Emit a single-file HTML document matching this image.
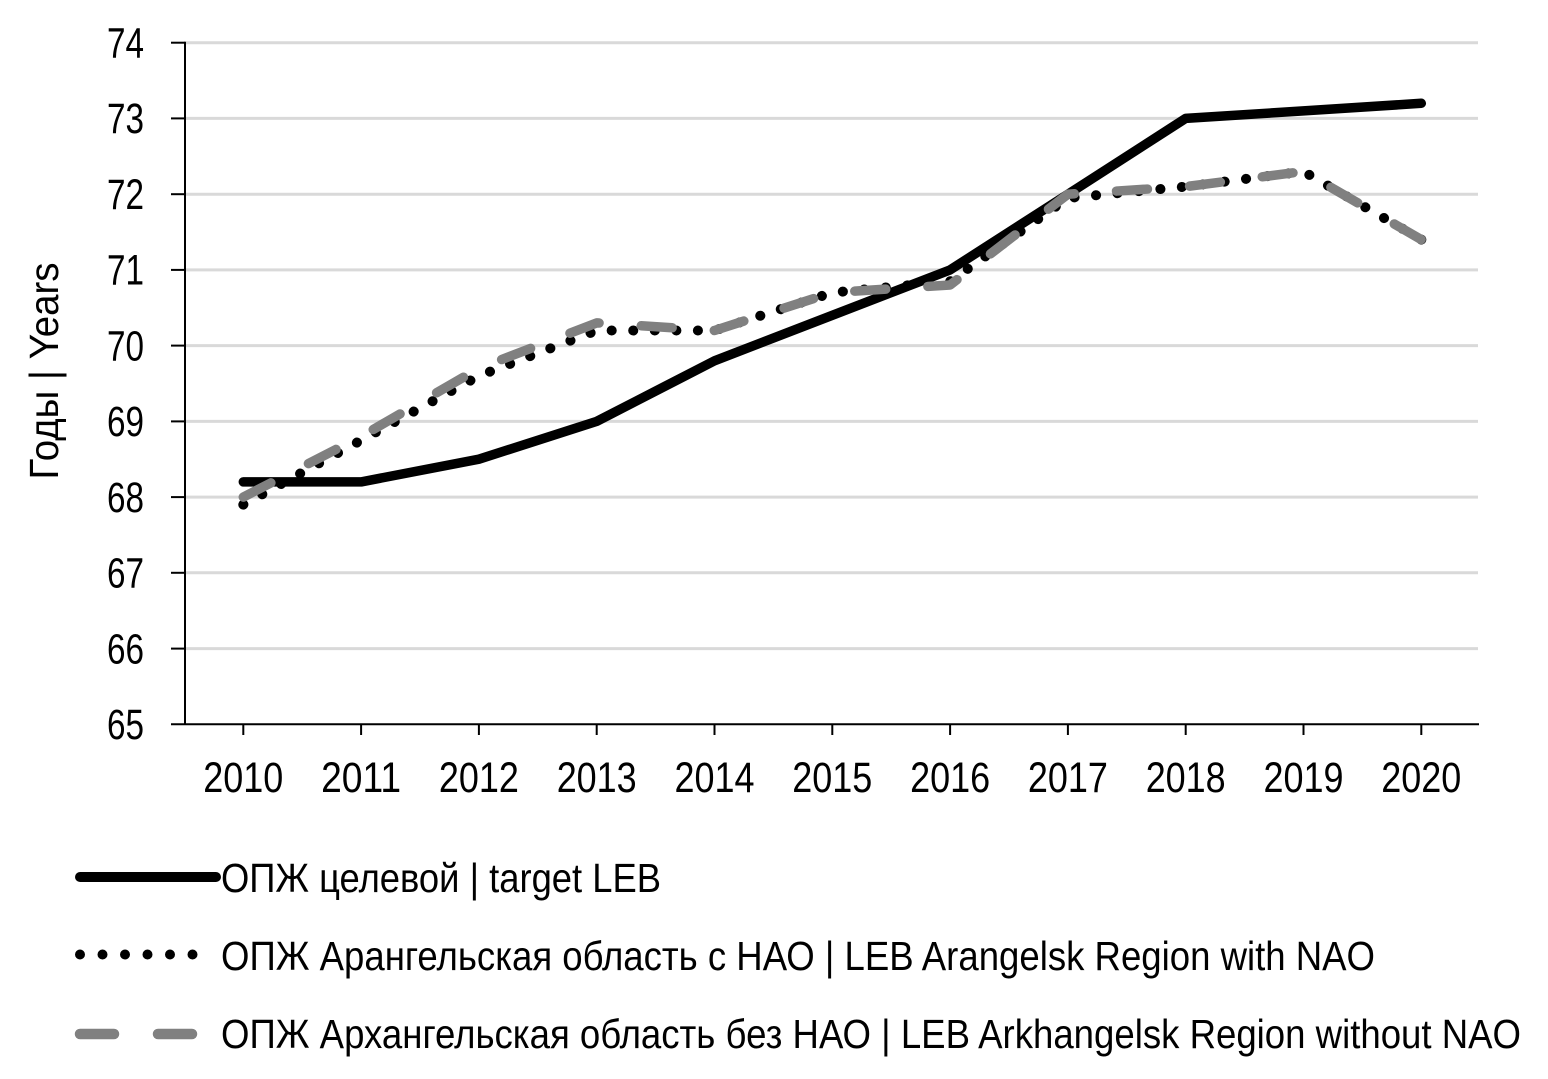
<!DOCTYPE html>
<html>
<head>
<meta charset="utf-8">
<style>
html,body{margin:0;padding:0;background:#fff;}
svg{display:block;}
text{font-family:"Liberation Sans Narrow","Liberation Sans",sans-serif;fill:#000;}
</style>
</head>
<body>
<svg width="1548" height="1079" viewBox="0 0 1548 1079" xmlns="http://www.w3.org/2000/svg">
<rect width="1548" height="1079" fill="#fff"/>
<!-- gridlines -->
<g stroke="#d9d9d9" stroke-width="3">
<line x1="185" y1="42.7" x2="1478" y2="42.7"/>
<line x1="185" y1="118.4" x2="1478" y2="118.4"/>
<line x1="185" y1="194.2" x2="1478" y2="194.2"/>
<line x1="185" y1="269.9" x2="1478" y2="269.9"/>
<line x1="185" y1="345.6" x2="1478" y2="345.6"/>
<line x1="185" y1="421.4" x2="1478" y2="421.4"/>
<line x1="185" y1="497.1" x2="1478" y2="497.1"/>
<line x1="185" y1="572.8" x2="1478" y2="572.8"/>
<line x1="185" y1="648.6" x2="1478" y2="648.6"/>
</g>
<!-- axes -->
<g stroke="#000" stroke-width="2">
<line x1="185" y1="41.7" x2="185" y2="725"/>
<line x1="171" y1="724.3" x2="1479" y2="724.3"/>
<line x1="171" y1="42.7" x2="185" y2="42.7"/>
<line x1="171" y1="118.4" x2="185" y2="118.4"/>
<line x1="171" y1="194.2" x2="185" y2="194.2"/>
<line x1="171" y1="269.9" x2="185" y2="269.9"/>
<line x1="171" y1="345.6" x2="185" y2="345.6"/>
<line x1="171" y1="421.4" x2="185" y2="421.4"/>
<line x1="171" y1="497.1" x2="185" y2="497.1"/>
<line x1="171" y1="572.8" x2="185" y2="572.8"/>
<line x1="171" y1="648.6" x2="185" y2="648.6"/>
<line x1="243.3" y1="724" x2="243.3" y2="735"/>
<line x1="361.1" y1="724" x2="361.1" y2="735"/>
<line x1="478.9" y1="724" x2="478.9" y2="735"/>
<line x1="596.7" y1="724" x2="596.7" y2="735"/>
<line x1="714.5" y1="724" x2="714.5" y2="735"/>
<line x1="832.3" y1="724" x2="832.3" y2="735"/>
<line x1="950.1" y1="724" x2="950.1" y2="735"/>
<line x1="1067.9" y1="724" x2="1067.9" y2="735"/>
<line x1="1185.7" y1="724" x2="1185.7" y2="735"/>
<line x1="1303.5" y1="724" x2="1303.5" y2="735"/>
<line x1="1421.3" y1="724" x2="1421.3" y2="735"/>
</g>
<!-- y labels -->
<g font-size="43" text-anchor="end">
<text x="144" y="57.5" textLength="37" lengthAdjust="spacingAndGlyphs">74</text>
<text x="144" y="133.2" textLength="37" lengthAdjust="spacingAndGlyphs">73</text>
<text x="144" y="209" textLength="37" lengthAdjust="spacingAndGlyphs">72</text>
<text x="144" y="284.7" textLength="37" lengthAdjust="spacingAndGlyphs">71</text>
<text x="144" y="360.4" textLength="37" lengthAdjust="spacingAndGlyphs">70</text>
<text x="144" y="436.2" textLength="37" lengthAdjust="spacingAndGlyphs">69</text>
<text x="144" y="511.9" textLength="37" lengthAdjust="spacingAndGlyphs">68</text>
<text x="144" y="587.6" textLength="37" lengthAdjust="spacingAndGlyphs">67</text>
<text x="144" y="663.4" textLength="37" lengthAdjust="spacingAndGlyphs">66</text>
<text x="144" y="739.1" textLength="37" lengthAdjust="spacingAndGlyphs">65</text>
</g>
<!-- x labels -->
<g font-size="43" text-anchor="middle">
<text x="243.3" y="792" textLength="80" lengthAdjust="spacingAndGlyphs">2010</text>
<text x="361.1" y="792" textLength="80" lengthAdjust="spacingAndGlyphs">2011</text>
<text x="478.9" y="792" textLength="80" lengthAdjust="spacingAndGlyphs">2012</text>
<text x="596.7" y="792" textLength="80" lengthAdjust="spacingAndGlyphs">2013</text>
<text x="714.5" y="792" textLength="80" lengthAdjust="spacingAndGlyphs">2014</text>
<text x="832.3" y="792" textLength="80" lengthAdjust="spacingAndGlyphs">2015</text>
<text x="950.1" y="792" textLength="80" lengthAdjust="spacingAndGlyphs">2016</text>
<text x="1067.9" y="792" textLength="80" lengthAdjust="spacingAndGlyphs">2017</text>
<text x="1185.7" y="792" textLength="80" lengthAdjust="spacingAndGlyphs">2018</text>
<text x="1303.5" y="792" textLength="80" lengthAdjust="spacingAndGlyphs">2019</text>
<text x="1421.3" y="792" textLength="80" lengthAdjust="spacingAndGlyphs">2020</text>
</g>
<!-- y title -->
<text font-size="41" text-anchor="middle" transform="translate(58,371) rotate(-90)" textLength="217" lengthAdjust="spacingAndGlyphs">Годы | Years</text>
<!-- series -->
<polyline fill="none" stroke="#000" stroke-width="9.5" stroke-linejoin="round" stroke-linecap="round"
 points="243.3,481.9 361.1,481.9 478.9,459.2 596.7,421.4 714.5,360.8 832.3,315.3 950.1,269.9 1067.9,194.2 1185.7,118.4 1303.5,110.9 1421.3,103.3"/>
<polyline fill="none" stroke="#000" stroke-width="10" stroke-linejoin="round" stroke-linecap="round" stroke-dasharray="0.1 21.46"
 points="243.3,504.6 361.1,440.3 478.9,375.9 596.7,330.5 714.5,330.5 832.3,292.6 950.1,281.3 1067.9,198 1185.7,186.6 1303.5,171.5 1421.3,239.6"/>
<polyline fill="none" stroke="#808080" stroke-width="9.5" stroke-linejoin="round" stroke-linecap="round" stroke-dasharray="31 42.24"
 points="243.3,497.1 361.1,436.5 478.9,368.3 596.7,322.9 714.5,330.5 832.3,292.6 950.1,285 1067.9,194.2 1185.7,186.6 1303.5,171.5 1421.3,239.6"/>
<!-- legend -->
<line x1="80" y1="877" x2="216" y2="877" stroke="#000" stroke-width="10" stroke-linecap="round"/>
<g fill="#000">
<circle cx="80" cy="954.5" r="5"/>
<circle cx="102.5" cy="954.5" r="5"/>
<circle cx="125" cy="954.5" r="5"/>
<circle cx="147.5" cy="954.5" r="5"/>
<circle cx="170" cy="954.5" r="5"/>
<circle cx="192.5" cy="954.5" r="5"/>
</g>
<g stroke="#808080" stroke-width="10.5" stroke-linecap="round">
<line x1="80" y1="1034" x2="114" y2="1034"/>
<line x1="158" y1="1034" x2="192" y2="1034"/>
</g>
<g font-size="41">
<text x="221" y="892" textLength="440" lengthAdjust="spacingAndGlyphs">ОПЖ целевой | target LEB</text>
<text x="221" y="970" textLength="1154" lengthAdjust="spacingAndGlyphs">ОПЖ Арангельская область с НАО | LEB Arangelsk Region with NAO</text>
<text x="221" y="1048" textLength="1300" lengthAdjust="spacingAndGlyphs">ОПЖ Архангельская область без НАО | LEB Arkhangelsk Region without NAO</text>
</g>
</svg>
</body>
</html>
